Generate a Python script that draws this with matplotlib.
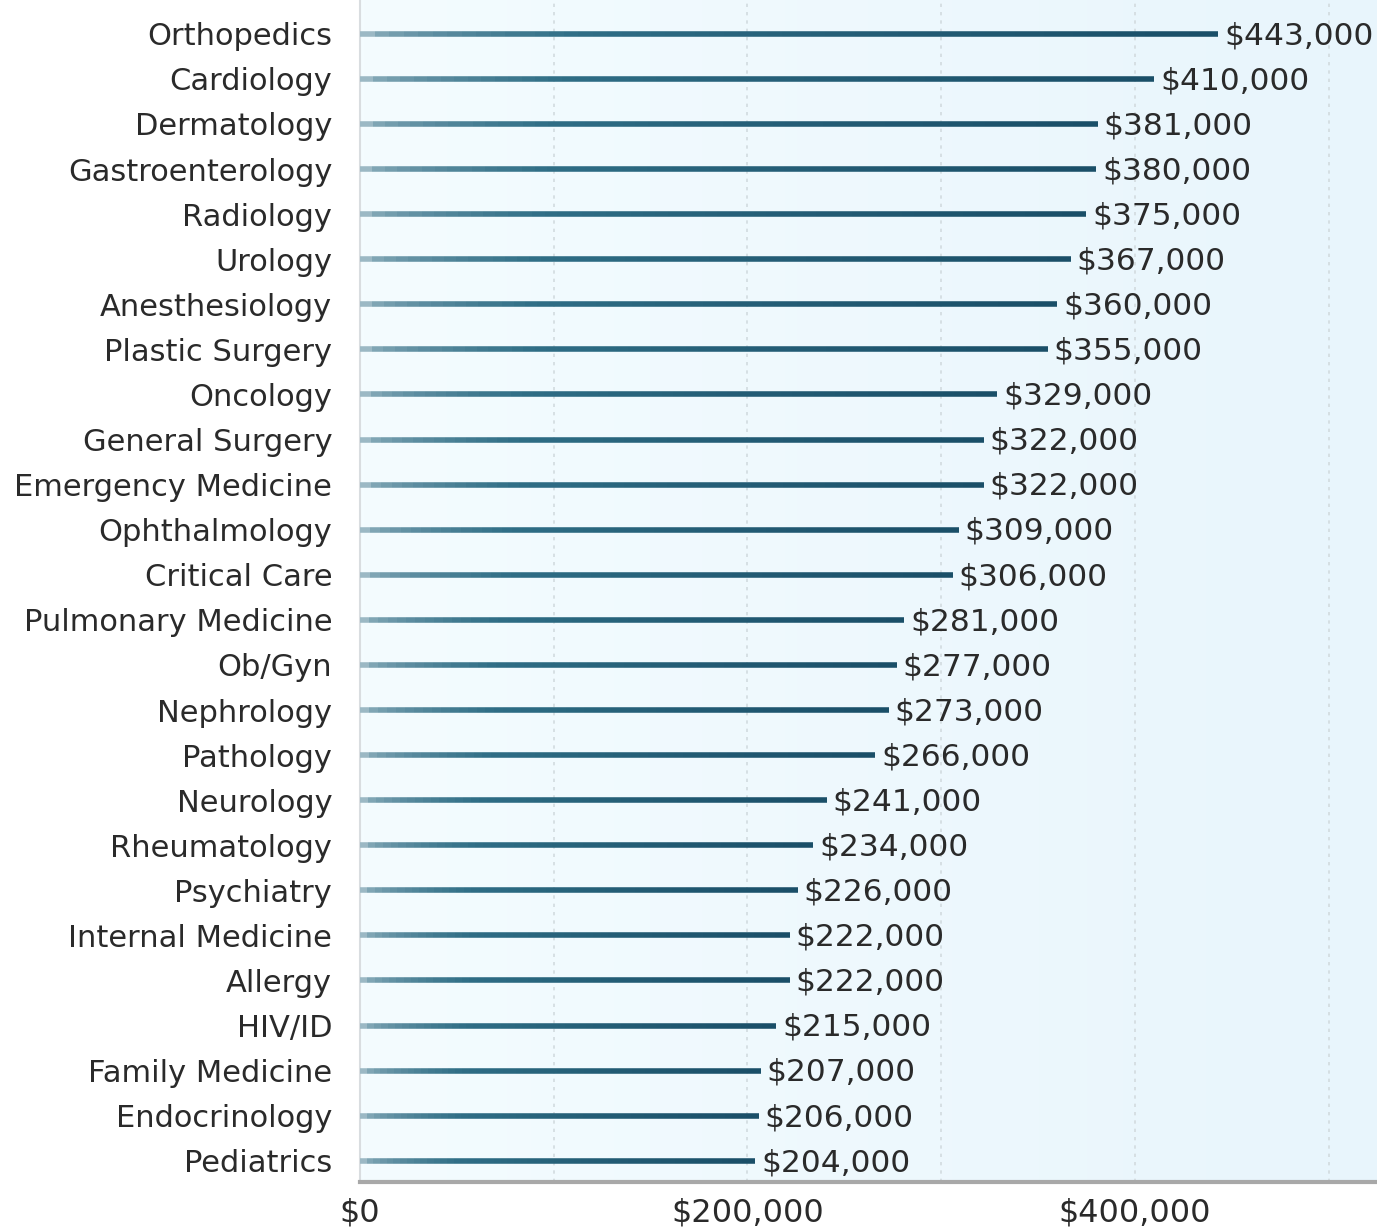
import numpy as np
import matplotlib.pyplot as plt
from matplotlib.collections import LineCollection
from matplotlib.colors import LinearSegmentedColormap
from matplotlib.ticker import FuncFormatter

plt.rcParams['font.family'] = ['DejaVu Sans']

specialties = ['Orthopedics', 'Cardiology', 'Dermatology', 'Gastroenterology', 'Radiology',
               'Urology', 'Anesthesiology', 'Plastic Surgery', 'Oncology', 'General Surgery',
               'Emergency Medicine', 'Ophthalmology', 'Critical Care', 'Pulmonary Medicine',
               'Ob/Gyn', 'Nephrology', 'Pathology', 'Neurology', 'Rheumatology', 'Psychiatry',
               'Internal Medicine', 'Allergy', 'HIV/ID', 'Family Medicine', 'Endocrinology',
               'Pediatrics']
salary = [443000, 410000, 381000, 380000, 375000, 367000, 360000, 355000, 329000, 322000,
          322000, 309000, 306000, 281000, 277000, 273000, 266000, 241000, 234000, 226000,
          222000, 222000, 215000, 207000, 206000, 204000]

fig = plt.figure(figsize=(13.77, 12.30), dpi=100)
ax = fig.add_axes([360 / 1377, 48 / 1230, 1 - 360 / 1377, 1 - 48 / 1230])

ax.set_xlim(0, 525000)
n = len(specialties)
y = np.arange(n)[::-1]
ax.set_ylim(-0.47, n - 0.25)

# background gradient, very light sky blue
grad = np.linspace(0, 1, 256).reshape(1, -1)
ax.imshow(grad, extent=[0, 1, 0, 1], transform=ax.transAxes, aspect='auto',
          cmap=LinearSegmentedColormap.from_list('bg', ['#f4fcff', '#e8f5fc']), zorder=0)

for xv in [100000, 200000, 300000, 400000, 500000]:
    ax.axvline(xv, color='#d2dbdf', lw=1.2, ls=(0, (2, 3)), zorder=1)

# lines with a light-to-dark gradient
cmap = LinearSegmentedColormap.from_list('bar', ['#9bb8c4', '#2f6e86', '#1a4f68'])
for yi, v in zip(y, salary):
    xs = np.linspace(0, v, 60)
    segs = [[(xs[i], yi), (xs[i + 1], yi)] for i in range(len(xs) - 1)]
    cols = cmap(np.linspace(0, 1, len(segs)) ** 0.5)
    ax.add_collection(LineCollection(segs, colors=cols, linewidths=4, zorder=3, capstyle='butt'))
    ax.text(v + 3000, yi - 0.04, f'${v:,.0f}', va='center', ha='left', fontsize=22.5,
            color='#2a2a2a', zorder=4)

ax.set_yticks(y)
ax.set_yticklabels(specialties, fontsize=22, color='#2a2a2a')
ax.set_xticks([0, 200000, 400000])
ax.xaxis.set_major_formatter(FuncFormatter(lambda v, p: f'${v:,.0f}'))
ax.tick_params(axis='x', labelsize=23, labelcolor='#2a2a2a', length=0, pad=11)
ax.tick_params(axis='y', length=0, pad=20)

for s in ['top', 'right']:
    ax.spines[s].set_visible(False)
ax.spines['left'].set_color('#d9dde0')
ax.spines['left'].set_linewidth(1.5)
ax.spines['bottom'].set_color('#a8a8a8')
ax.spines['bottom'].set_linewidth(3)

fig.savefig('out.png', dpi=100)
